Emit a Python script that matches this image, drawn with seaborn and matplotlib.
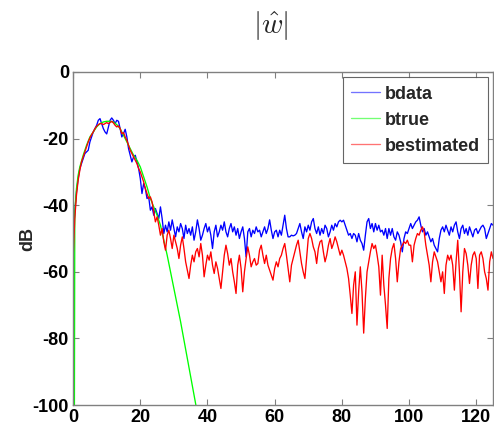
import numpy as np
import pandas as pd
import matplotlib
matplotlib.use("Agg")
import matplotlib.pyplot as plt
import seaborn as sns

# ---------------- data ----------------
x_step = 0.5
x_max = 125

bdata = [
    -50, -42, -36, -32, -29, -27.5, -26, -24.5, -24, -23.5,          # 0 - 4.5
    -21, -19.5, -18, -17, -16, -14.5, -14, -15.5, -17, -18,          # 5 - 9.5
    -18.6, -16.5, -14.5, -13.8, -14.5, -15.5, -14.5, -14.8, -17, -19.5,  # 10 - 14.5
    -18.5, -17.2, -19.5, -23, -25, -27, -25.5, -25, -27, -29,        # 15 - 19.5
    -32, -36.5, -33.5, -35, -38, -37.5, -41.5, -40.5, -43, -41,      # 20 - 24.5
    -42.5, -44, -40.5, -44, -48.5, -46, -48, -45, -47.5, -44.4,      # 25 - 29.5
    -47, -49.5, -46.5, -48, -45.5, -47, -50, -46, -48.5, -47,        # 30 - 34.5
    -49, -46.5, -50.5, -48, -44.4, -47, -50.5, -49, -47, -45.5,      # 35 - 39.5
    -48, -46.5, -49, -53, -48, -46, -49.5, -48, -46, -47.5,          # 40 - 44.5
    -45, -48, -49.5, -47, -45.5, -48, -46.5, -49, -47, -50,          # 45 - 49.5
    -48, -46.5, -50, -55.5, -48, -47, -49.5, -47.5, -48.5, -46.5,    # 50 - 54.5
    -48, -47.5, -49.5, -48, -46.5, -48.5, -47, -44.4, -47.5, -50,    # 55 - 59.5
    -48, -47.5, -49.5, -47.5, -49, -46, -43, -47, -49.5, -49.5,      # 60 - 64.5
    -49, -49.2, -49, -48.5, -47, -45.5, -48, -50, -46.5, -48,        # 65 - 69.5
    -46, -47.5, -45, -44, -47, -48.5, -46.5, -49, -47, -48.5,        # 70 - 74.5
    -46, -47, -49.5, -48, -46, -47.5, -45.5, -46.5, -45, -44.5,      # 75 - 79.5
    -45, -44.5, -46, -47.5, -49, -48.5, -50, -48.5, -49, -51,        # 80 - 84.5
    -48.5, -50.5, -51.5, -53.5, -49, -45, -44, -47, -45.5, -48,      # 85 - 89.5
    -45.5, -47.5, -46, -48, -47.5, -49, -47, -50, -47, -49,          # 90 - 94.5
    -47, -49.5, -50.5, -48, -49, -51, -54, -50, -48, -48.5,          # 95 - 99.5
    -47, -45.5, -47, -46, -45, -44.5, -43.5, -46, -48, -47,          # 100 - 104.5
    -49, -48, -49.5, -51, -50, -52, -53, -54, -50, -47.5,            # 105 - 109.5
    -46.5, -48, -46, -47.5, -49, -46.5, -48, -46, -45, -48,          # 110 - 114.5
    -50, -47, -46, -48.5, -47, -49, -46.5, -48, -49.5, -47.5,        # 115 - 119.5
    -47, -48.5, -47.5, -46.5, -46, -47, -50, -48.5, -47, -45.5,      # 120 - 124.5
    -46,                                                             # 125
]

bestimated = [
    -56, -44, -37, -32.5, -29.5, -27, -25.5, -24, -22.5, -21,        # 0 - 4.5
    -19.8, -18.8, -18, -17, -16.3, -15.8, -15.5, -15.5, -15.8, -15.5,  # 5 - 9.5
    -15.2, -15.5, -15.2, -14.8, -15.3, -16, -16.5, -16.2, -17, -18.5,  # 10 - 14.5
    -18.2, -19.5, -20.5, -22, -23.5, -24.5, -25.5, -26.5, -27.5, -29,  # 15 - 19.5
    -30, -31.5, -33, -35, -36.5, -38, -37.5, -39, -42, -45,          # 20 - 24.5
    -43.5, -46, -49, -47, -51, -53.5, -49, -47.5, -50, -53,          # 25 - 29.5
    -49, -51, -53, -56, -52, -49.5, -53, -57, -59.5, -62,            # 30 - 34.5
    -58, -55, -57, -54, -53, -55.5, -51.5, -55, -61.5, -58,          # 35 - 39.5
    -55, -56.5, -54, -58, -60.5, -57, -59, -62, -65, -60,            # 40 - 44.5
    -55, -52, -54.5, -58, -56, -60, -63, -66.5, -58, -55,            # 45 - 49.5
    -59, -66, -60, -56, -52.5, -55, -58.5, -57, -56, -58,            # 50 - 54.5
    -57.5, -53.5, -52, -55, -57.5, -55, -58, -59.5, -61, -62.5,      # 55 - 59.5
    -59, -57, -58.5, -56, -55, -53, -51.5, -55, -59, -63,            # 60 - 64.5
    -58, -56, -54, -52, -50.5, -54, -57.5, -60, -62, -56,            # 65 - 69.5
    -50, -48.5, -50, -52.5, -54, -57.5, -53, -51, -50.5, -54,        # 70 - 74.5
    -57, -55, -52, -50, -53, -51.5, -49.5, -51, -53, -55,            # 75 - 79.5
    -53.5, -55, -57, -59, -62, -67, -72.5, -64, -60, -76,            # 80 - 84.5
    -66, -58.5, -66, -78.4, -68, -60, -57, -54, -51.5, -53,          # 85 - 89.5
    -52, -55, -58.5, -67, -55, -64, -70, -77, -62, -56,              # 90 - 94.5
    -53, -51.5, -56, -63, -57, -53, -52, -51, -51.5, -50.5,          # 95 - 99.5
    -52, -52, -57, -52, -50, -48.5, -49, -47.5, -46.5, -48,          # 100 - 104.5
    -52, -55, -58, -63, -57, -54, -55.5, -57, -60, -63,              # 105 - 109.5
    -60, -66.5, -58, -55, -56.5, -55, -58, -65.5, -57, -50.5,        # 110 - 114.5
    -60, -72, -60, -53, -54.5, -58, -63.5, -58, -55, -54,            # 115 - 119.5
    -56, -65, -55, -54, -56, -60, -62, -65.5, -57, -54,              # 120 - 124.5
    -56,                                                             # 125
]

btrue_x = [0, 0.5, 1, 1.5, 2, 3, 4, 5, 6, 7, 8, 9, 10, 11, 12, 13, 14, 15, 16,
           17, 18, 19, 20, 21, 22, 23, 24, 25, 26, 27, 28, 29, 30, 31, 32, 33,
           34, 35, 36, 37]
btrue = [-300, -42, -35, -31, -28.5, -25, -22, -19.5, -18, -16.5, -15.5, -15,
         -14.8, -14.8, -15, -15.8, -17, -19, -21, -23, -25, -26.5, -28.5,
         -31.5, -34.5, -38, -40.5, -43, -46, -50.5, -55, -60, -65, -70, -75,
         -80.5, -86, -91.5, -97, -102.5]

labels = ["bdata", "btrue", "bestimated"]
xticks = [0, 20, 40, 60, 80, 100, 120]
yticks = [-100, -80, -60, -40, -20, 0]

# ---------------- style ----------------
sns.set_style("white")
plt.rcParams["font.family"] = ["Liberation Sans", "DejaVu Sans"]
plt.rcParams["font.weight"] = "bold"
plt.rcParams["axes.unicode_minus"] = False
plt.rcParams["mathtext.fontset"] = "cm"

x = np.arange(0, x_max + x_step / 2, x_step)
df_data = pd.DataFrame({"x": x, "y": bdata})
df_est = pd.DataFrame({"x": x, "y": bestimated})
df_true = pd.DataFrame({"x": btrue_x, "y": btrue})

fig = plt.figure(figsize=(4.94, 4.30), dpi=100)
ax = fig.add_axes([0.148, 0.058, 0.850, 0.7746])

lw = 0.95
sns.lineplot(data=df_data, x="x", y="y", ax=ax, color=(0, 0, 1), lw=lw,
             label=labels[0], estimator=None, sort=False)
sns.lineplot(data=df_true, x="x", y="y", ax=ax, color=(0, 1, 0), lw=lw,
             label=labels[1], estimator=None, sort=False)
sns.lineplot(data=df_est, x="x", y="y", ax=ax, color=(1, 0, 0), lw=lw,
             label=labels[2], estimator=None, sort=False)

ax.set_xlim(0, 125)
ax.set_ylim(-100, 0)
ax.set_xticks(xticks)
ax.set_yticks(yticks)
ax.set_xticklabels([str(t) for t in xticks], fontsize=13, fontweight="bold")
ax.set_yticklabels([str(t) for t in yticks], fontsize=13, fontweight="bold")
ax.set_xlabel("")
ax.set_ylabel("dB", fontsize=13, fontweight="bold", labelpad=-3)

spine_col = "#808080"
for s in ax.spines.values():
    s.set_visible(True)
    s.set_color(spine_col)
    s.set_linewidth(1.0)
ax.tick_params(axis="both", which="both", direction="in", length=4,
               width=0.8, color=spine_col, top=True, right=True,
               bottom=True, left=True, labelcolor="black")
ax.tick_params(axis="y", pad=3)
ax.tick_params(axis="x", pad=3)

leg = ax.legend(loc="upper right", fontsize=13, frameon=True, fancybox=False,
                handlelength=1.6, handletextpad=0.25, borderpad=0.45,
                labelspacing=0.5, borderaxespad=0.3)
leg.get_frame().set_edgecolor("#404040")
leg.get_frame().set_linewidth(0.8)
for t in leg.get_texts():
    t.set_fontweight("bold")
for h in leg.get_lines():
    h.set_alpha(0.55)

fig.text(0.549, 0.94, r"$|\hat{w}|$", ha="center", va="center", fontsize=21)

fig.savefig("out.png", dpi=100)
